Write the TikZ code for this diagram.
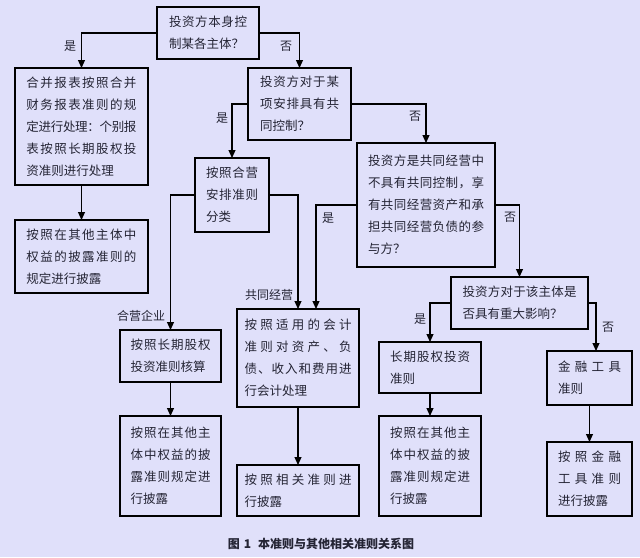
\documentclass[tikz,border=0pt]{standalone}
\usepackage{fontspec}
\setmainfont{Noto Sans CJK SC}
\newfontfamily\cjk{Noto Sans CJK SC}
\usetikzlibrary{arrows.meta}
\definecolor{bgc}{RGB}{224,224,250}
\definecolor{txc}{RGB}{36,36,52}
\let\SpreadEnd\relax
\def\SpreadRest#1{\ifx\SpreadEnd#1\else\hskip 0pt plus 1fil minus 0.7pt #1\expandafter\SpreadRest\fi}
\def\SpreadFirst#1{#1\SpreadRest}
\def\Spread#1{\SpreadFirst#1\SpreadEnd}
\newcommand\JL[2]{\hbox to #1pt{\Spread{#2}}}
\tikzset{
  box/.style={draw=black, line width=1.1pt, outer sep=0pt, inner sep=0pt, align=left,
    text=txc, font=\cjk\fontsize{12.5}{22}\selectfont},
  conn/.style={draw=black, line width=1.1pt, -{Triangle[width=7pt,length=8pt]}},
  lbl/.style={text=txc, inner sep=0pt, font=\cjk\fontsize{12}{14}\selectfont},
}
\begin{document}
\begin{tikzpicture}[x=1pt,y=-1pt]
\fill[bgc] (0,0) rectangle (640,557);
\useasboundingbox (0,0) rectangle (640,557);

\node[box, minimum width=102pt, minimum height=52pt] (A) at (208,33)
  {\JL{78}{投资方本身控}\\制某各主体？};
\node[box, minimum width=133pt, minimum height=117pt] (B) at (81.5,126.5)
  {\JL{110}{合并报表按照合并}\\\JL{110}{财务报表准则的规}\\\JL{110}{定进行处理：个别报}\\\JL{110}{表按照长期股权投}\\资准则进行处理};
\node[box, minimum width=133pt, minimum height=73pt] (C) at (81.5,256.5)
  {\JL{110}{按照在其他主体中}\\\JL{110}{权益的披露准则的}\\规定进行披露};
\node[box, minimum width=103pt, minimum height=72pt] (D) at (299.5,104)
  {\JL{79}{投资方对于某}\\\JL{79}{项安排具有共}\\同控制？};
\node[box, minimum width=74pt, minimum height=74pt] (E) at (232,195)
  {\JL{52}{按照合营}\\\JL{52}{安排准则}\\分类};
\node[box, minimum width=138pt, minimum height=124pt] (F) at (426,205)
  {\JL{116}{投资方是共同经营中}\\\JL{116}{不具有共同控制，享}\\\JL{116}{有共同经营资产和承}\\\JL{116}{担共同经营负债的参}\\与方？};
\node[box, minimum width=137pt, minimum height=52pt] (G) at (519.5,303)
  {\JL{114}{投资方对于该主体是}\\否具有重大影响？};
\node[box, minimum width=101pt, minimum height=52pt] (H) at (170.5,356)
  {\JL{80}{按照长期股权}\\投资准则核算};
\node[box, minimum width=101pt, minimum height=100pt] (I) at (170.5,466)
  {\JL{80}{按照在其他主}\\\JL{80}{体中权益的披}\\\JL{80}{露准则规定进}\\行披露};
\node[box, minimum width=122pt, minimum height=98pt] (J) at (298,358)
  {\JL{107}{按照适用的会计}\\\JL{107}{准则对资产、负}\\\JL{107}{债、收入和费用进}\\行会计处理};
\node[box, minimum width=122pt, minimum height=51pt] (K) at (298,490.5)
  {\JL{107}{按照相关准则进}\\行披露};
\node[box, minimum width=102pt, minimum height=51pt] (L) at (430,367.5)
  {\JL{80}{长期股权投资}\\准则};
\node[box, minimum width=102pt, minimum height=100pt] (M) at (430,466)
  {\JL{80}{按照在其他主}\\\JL{80}{体中权益的披}\\\JL{80}{露准则规定进}\\行披露};
\node[box, minimum width=85pt, minimum height=54pt] (N) at (589.5,378)
  {\JL{63}{金融工具}\\准则};
\node[box, minimum width=85pt, minimum height=74pt] (O) at (589.5,479)
  {\JL{63}{按照金融}\\\JL{63}{工具准则}\\进行披露};

\coordinate (Jin) at ([xshift=18pt]J.north);
\coordinate (Nin) at ([xshift=6.5pt]N.north);

\draw[conn] (A.west) -| (B.north);
\draw[conn] (A.east) -| (D.north);
\draw[conn] (B.south) -- (C.north);
\draw[conn] (D.west) -| (E.north);
\draw[conn] (D.east) -| (F.north);
\draw[conn] (E.west) -| (H.north);
\draw[conn] (E.east) -| (J.north);
\draw[conn] (F.west) -| (Jin);
\draw[conn] (F.east) -| (G.north);
\draw[conn] (G.west) -| (L.north);
\draw[conn] (G.east) -| (Nin);
\draw[conn] (H.south) -- (I.north);
\draw[conn] (J.south) -- (K.north);
\draw[conn] (L.south) -- (M.north);
\draw[conn] (N.south) -- (O.north);

\node[lbl] (l1) at (70,46) {是};
\node[lbl] (l2) at (286,46) {否};
\node[lbl] (l3) at (222,118) {是};
\node[lbl] (l4) at (415,116) {否};
\node[lbl] (l5) at (141,316) {合营企业};
\node[lbl] (l6) at (269,295) {共同经营};
\node[lbl] (l7) at (328,218) {是};
\node[lbl] (l8) at (510,217) {否};
\node[lbl] (l9) at (420,319) {是};
\node[lbl] (l10) at (608,327) {否};

\node[text=txc, inner sep=0pt, font=\cjk\bfseries\fontsize{12}{14}\selectfont] (cap) at (321,544)
  {图\hspace{4pt}1\hspace{7pt}本准则与其他相关准则关系图};
\end{tikzpicture}
\end{document}
